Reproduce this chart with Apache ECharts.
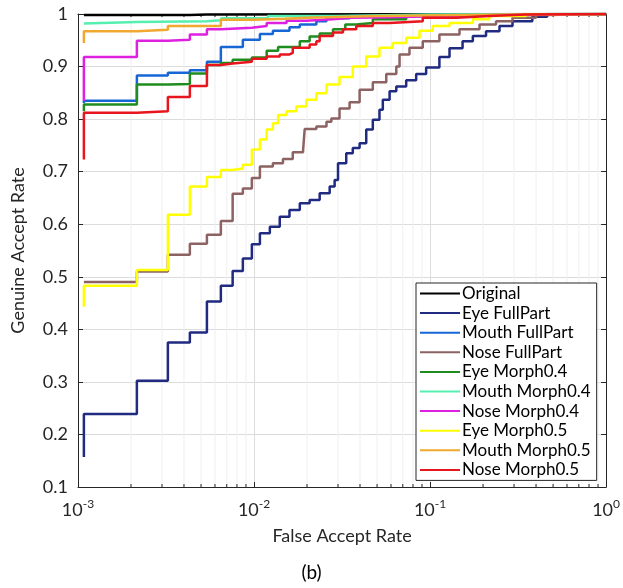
<!DOCTYPE html>
<html>
<head>
<meta charset="utf-8">
<script src="https://cdn.jsdelivr.net/npm/echarts@6/dist/echarts.min.js"></script>
<style>
html, body { margin: 0; padding: 0; background: #fff; }
#chart { width: 623px; height: 588px; }
</style>
</head>
<body>
<div id="chart"></div>
<script>
// ROC curves: [false accept rate, genuine accept rate]
var original = [[0.00108,0.998],[0.00432,0.999],[0.0054,1],[1,1]];
var eyeFull = [[0.00108,0.157],[0.00108,0.239],[0.00216,0.302],[0.00324,0.375],[0.00432,0.394],[0.0054,0.453],[0.00648,0.483],[0.00756,0.511],[0.00864,0.535],[0.00972,0.562],[0.0108,0.583],[0.0123,0.595],[0.014,0.614],[0.0159,0.627],[0.0182,0.640],[0.0207,0.646],[0.0236,0.659],[0.0269,0.672],[0.0287,0.684],[0.0300,0.716],[0.0334,0.735],[0.0364,0.745],[0.0398,0.754],[0.0434,0.780],[0.0473,0.799],[0.0516,0.818],[0.0539,0.837],[0.0589,0.853],[0.0643,0.862],[0.0732,0.874],[0.0834,0.886],[0.0950,0.898],[0.113,0.918],[0.129,0.935],[0.153,0.948],[0.175,0.958],[0.208,0.967],[0.248,0.977],[0.294,0.986],[0.381,0.995],[0.463,1],[1,1]];
var mouthFull = [[0.00108,0.830],[0.00108,0.835],[0.00216,0.883],[0.00324,0.888],[0.00432,0.893],[0.0054,0.909],[0.00648,0.937],[0.00864,0.951],[0.0108,0.962],[0.0128,0.968],[0.0159,0.975],[0.0182,0.980],[0.0226,0.986],[0.0258,0.992],[0.035,0.996],[0.06,0.998],[0.12,1],[1,1]];
var noseFull = [[0.00108,0.490],[0.00216,0.510],[0.00324,0.542],[0.00432,0.563],[0.0054,0.580],[0.00648,0.606],[0.00756,0.658],[0.00864,0.668],[0.00972,0.688],[0.0108,0.710],[0.0128,0.716],[0.0146,0.724],[0.0166,0.737],[0.0190,0.741],[0.0194,0.781],[0.0226,0.786],[0.0258,0.795],[0.0275,0.801],[0.0306,0.820],[0.0349,0.832],[0.0398,0.856],[0.0473,0.870],[0.0564,0.886],[0.0643,0.900],[0.0671,0.923],[0.0764,0.936],[0.0909,0.948],[0.113,0.961],[0.147,0.971],[0.191,0.980],[0.237,0.986],[0.294,0.993],[0.40,0.998],[0.463,1],[1,1]];
var eyeM04 = [[0.00108,0.815],[0.00108,0.828],[0.00216,0.866],[0.00324,0.867],[0.00432,0.887],[0.0054,0.903],[0.00648,0.907],[0.00756,0.913],[0.00972,0.917],[0.0118,0.930],[0.0137,0.937],[0.0182,0.948],[0.0207,0.957],[0.0236,0.963],[0.0281,0.971],[0.033,0.980],[0.038,0.983],[0.0473,0.990],[0.0732,0.996],[0.113,0.999],[0.3,1],[1,1]];
var mouthM04 = [[0.00108,0.982],[0.00108,0.985],[0.00216,0.986],[0.0054,0.988],[0.0065,0.992],[0.012,0.996],[0.03,0.999],[0.1,1],[1,1]];
var noseM04 = [[0.00108,0.835],[0.00108,0.918],[0.00216,0.949],[0.00324,0.951],[0.00432,0.961],[0.0054,0.971],[0.00648,0.974],[0.00972,0.977],[0.0118,0.983],[0.0153,0.987],[0.0198,0.990],[0.028,0.993],[0.035,0.994],[0.06,0.996],[0.12,0.998],[0.25,1],[1,1]];
var eyeM05 = [[0.00108,0.443],[0.00108,0.483],[0.00216,0.513],[0.00324,0.618],[0.00432,0.672],[0.0054,0.690],[0.00648,0.703],[0.00756,0.706],[0.00864,0.713],[0.00972,0.742],[0.0108,0.761],[0.0118,0.780],[0.0128,0.792],[0.0137,0.808],[0.0153,0.815],[0.0174,0.824],[0.0198,0.837],[0.0226,0.849],[0.0258,0.866],[0.0306,0.880],[0.0364,0.900],[0.0434,0.919],[0.0516,0.936],[0.0614,0.945],[0.0732,0.955],[0.0871,0.968],[0.1036,0.977],[0.129,0.983],[0.175,0.990],[0.217,0.996],[0.35,1],[1,1]];
var mouthM05 = [[0.00108,0.945],[0.00108,0.967],[0.00216,0.970],[0.00324,0.977],[0.00648,0.989],[0.01,0.991],[0.015,0.993],[0.02,0.996],[0.05,0.999],[0.3,1],[1,1]];
var noseM05 = [[0.00108,0.723],[0.00108,0.812],[0.00216,0.815],[0.00324,0.842],[0.00432,0.863],[0.0054,0.903],[0.00648,0.906],[0.00756,0.909],[0.00972,0.915],[0.0118,0.919],[0.014,0.923],[0.0159,0.926],[0.0166,0.936],[0.0207,0.942],[0.0226,0.948],[0.0236,0.958],[0.0281,0.965],[0.032,0.971],[0.0381,0.977],[0.0473,0.983],[0.0589,0.986],[0.0909,0.993],[0.1406,0.996],[0.217,0.999],[0.35,1],[1,1]];

var names = ['Original','Eye FullPart','Mouth FullPart','Nose FullPart','Eye Morph0.4','Mouth Morph0.4','Nose Morph0.4','Eye Morph0.5','Mouth Morph0.5','Nose Morph0.5'];
var curves = [original, eyeFull, mouthFull, noseFull, eyeM04, mouthM04, noseM04, eyeM05, mouthM05, noseM05];
var colors = ['#000000','#1f2a80','#1666d6','#8d6262','#1e8c1e','#55efb0','#e020e0','#ffff00','#f0a830','#e8141e'];

// log minor grid positions
var minorFar = [0.002,0.003,0.004,0.005,0.006,0.007,0.008,0.009,0.02,0.03,0.04,0.05,0.06,0.07,0.08,0.09,0.2,0.3,0.4,0.5,0.6,0.7,0.8,0.9];

var font = 'Lato';
var ink = '#262626';

var chart = echarts.init(document.getElementById('chart'));

var series = [{
  type: 'custom',
  silent: true,
  z: 1,
  data: minorFar.map(function (v) { return [v]; }),
  encode: { x: 0 },
  renderItem: function (params, api) {
    var x = api.value(0);
    var t = api.coord([x, 1]);
    var b = api.coord([x, 0.1]);
    return {
      type: 'group',
      children: [
        { type: 'line', shape: { x1: t[0], y1: t[1], x2: b[0], y2: b[1] }, style: { stroke: '#efefef', lineWidth: 1 } },
        { type: 'line', shape: { x1: b[0], y1: b[1], x2: b[0], y2: b[1] - 3 }, style: { stroke: ink, lineWidth: 1 } },
        { type: 'line', shape: { x1: t[0], y1: t[1], x2: t[0], y2: t[1] + 3 }, style: { stroke: ink, lineWidth: 1 } }
      ]
    };
  }
}];

names.forEach(function (n, i) {
  series.push({
    name: n,
    type: 'line',
    step: 'end',
    data: curves[i],
    showSymbol: false,
    clip: true,
    z: 3,
    lineStyle: { color: colors[i], width: 2.5 },
    itemStyle: { color: colors[i] }
  });
});

chart.setOption({
  animation: false,
  backgroundColor: '#fff',
  title: {
    text: '(b)',
    left: 'center',
    top: 558,
    textStyle: { fontFamily: font, fontSize: 19, fontWeight: 'normal', color: '#000' }
  },
  grid: { left: 78, right: 16, top: 14, bottom: 101 },
  legend: {
    data: names,
    orient: 'vertical',
    left: 416,
    top: 283,
    backgroundColor: '#fff',
    borderColor: ink,
    borderWidth: 1,
    borderRadius: 0,
    padding: [2, 6, 2, 4],
    itemWidth: 40,
    itemHeight: 2,
    itemGap: 2.6,
    icon: 'rect',
    textStyle: { fontFamily: font, fontSize: 17, color: '#000', lineHeight: 16, padding: [0, 0, 0, -3] }
  },
  xAxis: [{
    type: 'log',
    logBase: 10,
    min: 0.001,
    max: 1,
    name: 'False Accept Rate',
    nameLocation: 'middle',
    nameGap: 40,
    nameTextStyle: { fontFamily: font, fontSize: 18, color: ink },
    axisLine: { lineStyle: { color: ink, width: 1 } },
    axisTick: { inside: true, length: 5, lineStyle: { color: ink } },
    splitLine: { show: true, lineStyle: { color: '#dcdcdc', width: 1 } },
    axisLabel: {
      margin: 11,
      color: ink,
      formatter: function (v) { return '{b|10}{s|' + Math.round(Math.log10(v)) + '}'; },
      rich: {
        b: { fontFamily: font, fontSize: 18, color: ink, verticalAlign: 'bottom' },
        s: { fontFamily: font, fontSize: 12, color: ink, verticalAlign: 'bottom', padding: [0, 0, 9, 0] }
      }
    }
  }, {
    type: 'log',
    logBase: 10,
    min: 0.001,
    max: 1,
    position: 'top',
    axisLine: { lineStyle: { color: ink, width: 1 } },
    axisTick: { inside: true, length: 5, lineStyle: { color: ink } },
    axisLabel: { show: false },
    splitLine: { show: false }
  }],
  yAxis: [{
    type: 'value',
    min: 0.1,
    max: 1,
    interval: 0.1,
    name: 'Genuine Accept Rate',
    nameLocation: 'middle',
    nameGap: 51,
    nameTextStyle: { fontFamily: font, fontSize: 18, color: ink },
    axisLine: { show: true, lineStyle: { color: ink, width: 1 } },
    axisTick: { show: true, inside: true, length: 5, lineStyle: { color: ink } },
    splitLine: { show: true, lineStyle: { color: '#dcdcdc', width: 1 } },
    axisLabel: {
      margin: 10,
      fontFamily: font,
      fontSize: 18,
      color: ink,
      formatter: function (v) { var s = v.toFixed(1); return s === '1.0' ? '1' : s; }
    }
  }, {
    type: 'value',
    min: 0.1,
    max: 1,
    interval: 0.1,
    position: 'right',
    axisLine: { show: true, lineStyle: { color: ink, width: 1 } },
    axisTick: { show: true, inside: true, length: 5, lineStyle: { color: ink } },
    axisLabel: { show: false },
    splitLine: { show: false }
  }],
  series: series
});
</script>
</body>
</html>
